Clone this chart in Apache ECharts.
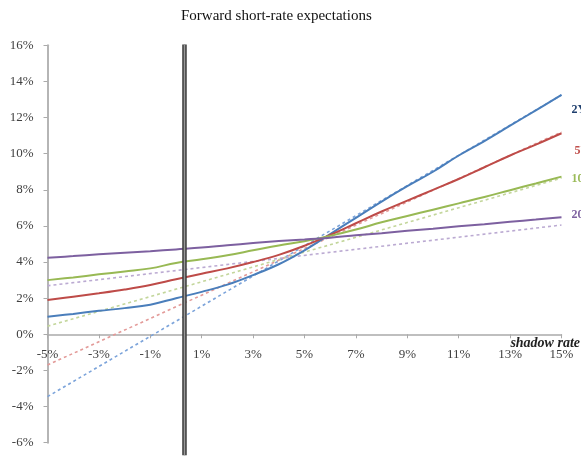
<!DOCTYPE html>
<html><head><meta charset="utf-8">
<script src="https://cdn.jsdelivr.net/npm/echarts@6/dist/echarts.min.js"></script>
<style>html,body{margin:0;padding:0;background:#fff}#c{width:581px;height:456px}</style>
</head><body><div id="c"></div>
<script>
// Shadow rate (x, %) and forward short-rate expectations (y, %)
const shadowRate = [-5,-4,-3,-2,-1,0,1,2,3,4,5,6,7,8,9,10,11,12,13,14,15];
const fwd2Y  = [0.97,1.13,1.30,1.45,1.64,2.00,2.35,2.75,3.28,3.88,4.65,5.55,6.45,7.35,8.20,9.00,9.90,10.70,11.55,12.40,13.25];
const fwd5Y  = [1.90,2.08,2.27,2.48,2.73,3.05,3.35,3.65,4.00,4.40,4.90,5.50,6.15,6.80,7.40,8.00,8.60,9.25,9.90,10.50,11.13];
const fwd10Y = [3.00,3.15,3.32,3.48,3.65,3.95,4.15,4.38,4.65,4.92,5.15,5.45,5.80,6.20,6.55,6.90,7.25,7.60,7.98,8.35,8.73];
const fwd20Y = [4.24,4.33,4.43,4.52,4.60,4.70,4.80,4.93,5.05,5.16,5.25,5.35,5.48,5.60,5.73,5.85,5.98,6.10,6.23,6.35,6.48];
// Dotted (no lower bound) lines: end points
const linX   = [-5, 15];
const lin2Y  = [-3.45, 13.25];
const lin5Y  = [-1.70, 11.20];
const lin10Y = [0.45, 8.65];
const lin20Y = [2.69, 6.05];
// Current shadow rate marker
const nowX = [0.33, 0.33];
const nowY = [16.05, -6.7];
const seriesNames = ['2Y','5Y','10Y','20Y'];
const xTickLabels = ['-5%','-3%','-1%','1%','3%','5%','7%','9%','11%','13%','15%'];

const serif = '"Liberation Serif","DejaVu Serif",serif';
const pair = (xs, ys) => xs.map((x,i)=>[x, ys[i]]);

const solidCols = ['#4A7EBB','#BE4B48','#98B954','#7D60A0'];
const dotCols   = ['#7BA3DA','#E39A98','#C3D69B','#BBAAD2'];
const labCols   = ['#1F3F6E','#C0504D','#9BBB59','#7F63A1'];
const labOff    = [[10,15],[13,18],[10,2],[10,-2]];
const solids = [fwd2Y, fwd5Y, fwd10Y, fwd20Y];
const lins = [lin2Y, lin5Y, lin10Y, lin20Y];

const series = [];
lins.forEach((ys,i)=>{
  series.push({type:'line', name: seriesNames[i]+' linear', data: pair(linX, ys), showSymbol:false, silent:true, z:2,
    lineStyle:{color:dotCols[i], width:1.6, type:[3,3]}});
});
solids.forEach((ys,i)=>{
  series.push({type:'line', name: seriesNames[i], data: pair(shadowRate, ys), showSymbol:false, smooth:0.4, silent:true, z:3,
    lineStyle:{color:solidCols[i], width:2},
    endLabel:{show:true, formatter: seriesNames[i], color: labCols[i], fontWeight:'bold', fontFamily: serif, fontSize:12, distance:0, offset: labOff[i]}});
});
series.push({type:'line', data: pair(nowX, nowY), showSymbol:false, clip:false, silent:true, z:5, lineStyle:{color:'#3c3c3c', width:4.5}});
series.push({type:'line', data: pair(nowX, nowY), showSymbol:false, clip:false, silent:true, z:6, lineStyle:{color:'#9a9a9a', width:1.5}});

const chart = echarts.init(document.getElementById('c'), null, {renderer:'canvas'});
chart.setOption({
  animation:false,
  backgroundColor:'#fff',
  title:{text:'Forward short-rate expectations', left:176, top:4, textStyle:{fontFamily:serif, fontSize:15, fontWeight:'normal', color:'#111'}},
  grid:{left:47.5, right:19.5, top:45.3, bottom:13.3, containLabel:false, outerBoundsMode:'none'},
  xAxis:{type:'value', min:-5, max:15, interval:2, position:'bottom', offset:-108.4,
    axisLine:{onZero:false, lineStyle:{color:'#aaaaaa', width:1.5}},
    axisTick:{show:true, length:4, lineStyle:{color:'#aaaaaa'}},
    axisLabel:{show:true, formatter: v => xTickLabels[Math.round((v+5)/2)], fontFamily:serif, fontSize:13, color:'#404040', margin:14, hideOverlap:false},
    splitLine:{show:false}},
  yAxis:{type:'value', min:-6, max:16, interval:2,
    axisLine:{show:true, onZero:false, lineStyle:{color:'#b5b5b5', width:2}},
    axisTick:{show:true, length:4, lineStyle:{color:'#aaaaaa'}},
    axisLabel:{formatter:'{value}%', fontFamily:serif, fontSize:13, color:'#404040', margin:14},
    splitLine:{show:false}},
  graphic:[{type:'text', right:1, top:336, z:10, style:{text:'shadow rate', font:'italic bold 14px '+serif, fill:'#222'}}],
  series: series
});
</script></body></html>
